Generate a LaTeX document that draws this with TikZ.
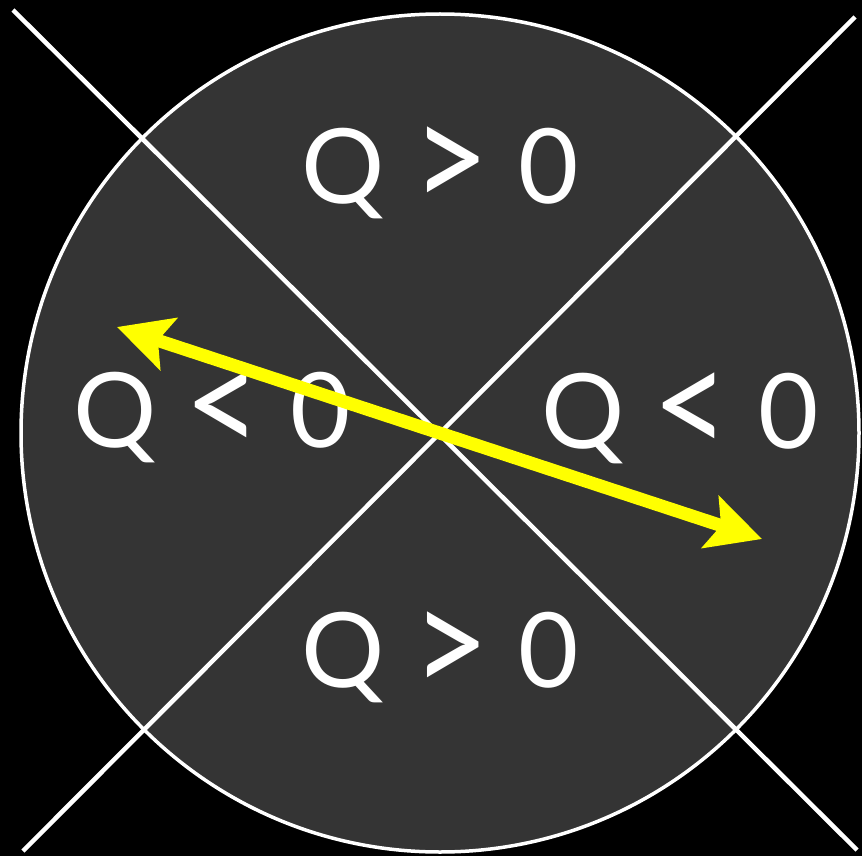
\documentclass[tikz,border=0pt]{standalone}
\usepackage{graphicx}
\usepackage{fontspec}
\setmainfont{Lato}
\usetikzlibrary{arrows.meta}
\definecolor{disc}{HTML}{343434}
\definecolor{arr}{HTML}{FFFF00}
\newcommand{\qsign}[1]{\hspace{0.27em}\raisebox{-8pt}{\scalebox{1.28}[1.45]{#1}}\hspace{0.27em}}

\begin{document}
\begin{tikzpicture}[x=1pt,y=-1pt,
  rim/.style={draw=white,line width=3.5pt},
  cross/.style={white,line width=4.5pt},
  qlab/.style={text=white,anchor=base,inner sep=0pt,
    font=\fontsize{104}{110}\selectfont},
  flow/.style={arr,line width=13pt,
    {Stealth[length=54pt,width=54pt,inset=11pt]}-{Stealth[length=54pt,width=54pt,inset=11pt]}}]
\fill[black] (0,0) rectangle (862,856);
\useasboundingbox (0,0) rectangle (862,856);
% disc and the two crossing lines
\coordinate (o) at (440,433);
\filldraw[fill=disc,rim] (o) circle (419);
\coordinate (nw) at (13,10);
\coordinate (se) at (857,850);
\coordinate (ne) at (855,17);
\coordinate (sw) at (23,851);
\draw[cross] (nw) -- (se);
\draw[cross] (ne) -- (sw);
% sector labels
\node[qlab] (qn) at (440,203) {Q\qsign{>}0};
\node[qlab] (qs) at (440,687) {Q\qsign{>}0};
\node[qlab] (qw) at (212,447) {Q\qsign{<}0};
\node[qlab] (qe) at (680,448) {Q\qsign{<}0};
% the arrow
\coordinate (aw) at (117,327);
\coordinate (ae) at (762,539);
\draw[flow] (aw) -- (ae);
\end{tikzpicture}
\end{document}
